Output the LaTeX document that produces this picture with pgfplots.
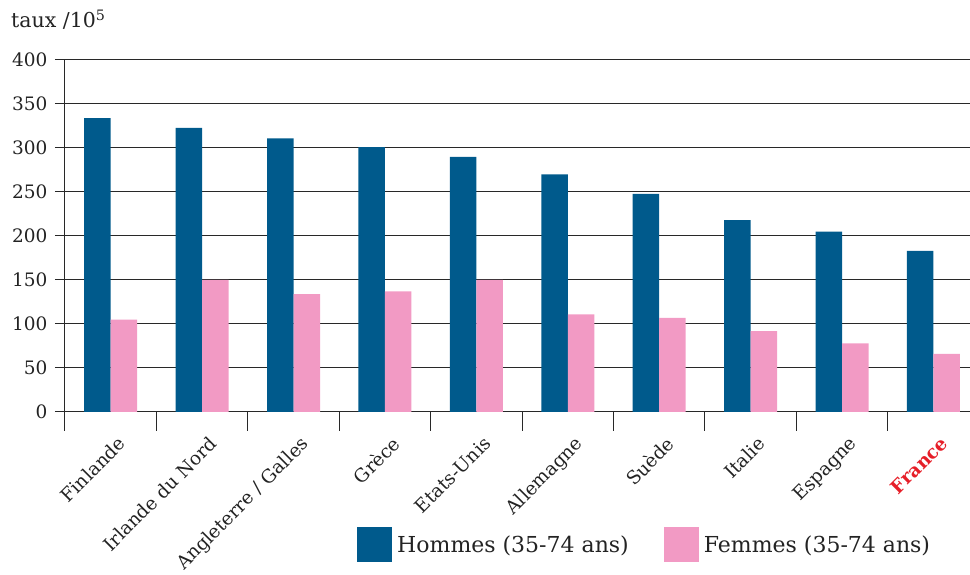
\documentclass[border=0pt]{standalone}
\usepackage{fontspec}
\setmainfont{DejaVu Serif}
\usepackage{pgfplots}
\usepackage{pgfplotstable}
\pgfplotsset{compat=1.18}
\definecolor{hblue}{RGB}{0,90,140}
\definecolor{fpink}{RGB}{242,154,196}
\definecolor{fred}{RGB}{230,30,40}
\definecolor{gridc}{RGB}{40,40,40}
\definecolor{txt}{RGB}{35,35,35}

\pgfplotstableread{
x H F
0 334 105
1 323 150
2 311 134
3 301 137
4 290 150
5 270 111
6 248 107
7 218 92
8 205 78
9 183 66
}\data

\begin{document}
\begin{tikzpicture}
\begin{axis}[
  scale only axis, width=905pt, height=352pt,
  at={(0,0)}, anchor=south west,
  xmin=-0.5, xmax=9.40, ymin=0, ymax=400,
  ybar=0pt, bar width=26.5pt,
  axis y line*=left, axis x line*=bottom,
  axis line style={gridc, line width=1pt},
  ytick={0,50,...,400},
  ymajorgrids, grid style={gridc, line width=1pt},
  tick align=outside, major tick length=10pt,
  tick style={gridc, line width=1pt},
  /pgf/number format/assume math mode=true,
  yticklabel style={font=\fontsize{18.5}{20}\selectfont, text=txt, xshift=-4pt},
  xtick={0,...,9},
  xticklabels={Finlande, Irlande du Nord, Angleterre / Galles, Grèce, Etats-Unis, Allemagne, Suède, Italie, Espagne, \textcolor{fred}{\textbf{France}}},
  x tick style={draw=none},
  xticklabel style={font=\fontsize{18.5}{20}\selectfont, text=txt, xshift=6pt, yshift=-13pt, rotate=45, anchor=north east, inner sep=0pt},
  extra x ticks={-0.5,0.5,...,8.5},
  extra x tick labels={},
  extra x tick style={major tick length=19pt, xtick style={draw=gridc, line width=1pt}, grid=none},
  legend style={draw=none, fill=none, at={(axis description cs:0.3227,-0.3267)}, anchor=north west,
    font=\fontsize{22}{24}\selectfont, text=txt, legend columns=2, inner sep=0pt,
    /tikz/every odd column/.append style={column sep=3pt},
    /tikz/every even column/.append style={column sep=33pt}},
  legend cell align=left,
]
\addplot[fill=hblue, draw=none, legend image code/.code={\fill[hblue] (0pt,-17.5pt) rectangle (35pt,17.5pt);}] table[x=x, y=H] {\data};
\addlegendentry{Hommes (35-74 ans)}
\addplot[fill=fpink, draw=none, legend image code/.code={\fill[fpink] (0pt,-17.5pt) rectangle (35pt,17.5pt);}] table[x=x, y=F] {\data};
\addlegendentry{Femmes (35-74 ans)}
\end{axis}
\node[anchor=base west, font=\fontsize{20.5}{22}\selectfont, text=txt, inner sep=0pt] at (-54pt,384pt) {taux /10\textsuperscript{5}};
\pgfresetboundingbox
\path[use as bounding box] (-65pt,-163pt) rectangle (905pt,412pt);
\end{tikzpicture}
\end{document}
